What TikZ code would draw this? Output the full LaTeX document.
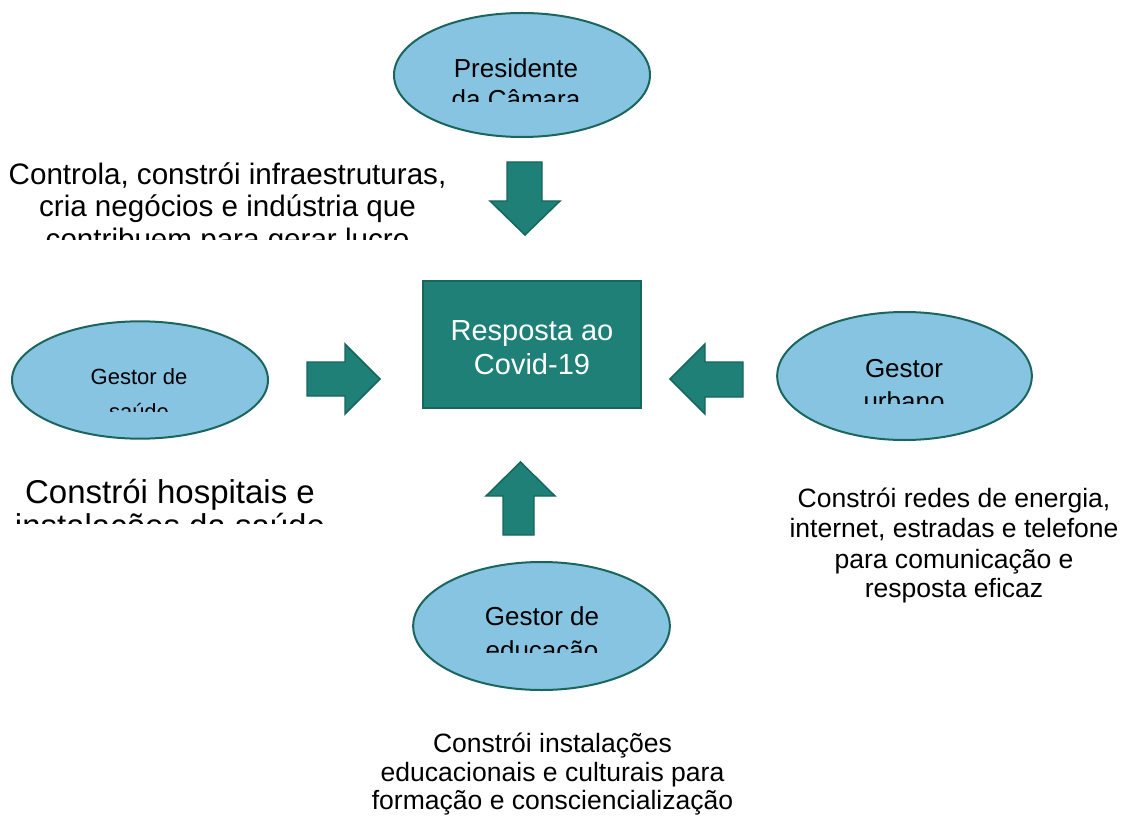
\documentclass[tikz,border=0pt]{standalone}
\usepackage{fontspec}
\setmainfont{Liberation Sans}
\usetikzlibrary{shapes.geometric}
\definecolor{bubblefill}{RGB}{134,196,226}
\definecolor{bubbleline}{RGB}{27,102,92}
\definecolor{boxteal}{RGB}{30,128,118}
\definecolor{arrowline}{RGB}{23,102,92}
\tikzset{
  bubble/.style={ellipse, fill=bubblefill, draw=bubbleline, line width=1.5pt, inner sep=0pt},
  blockarrow/.style={fill=boxteal, draw=arrowline, line width=1.1pt, line join=miter},
  txt/.style={anchor=base, inner sep=0pt, text=black},
  fA/.style={font=\fontsize{19.5}{23}\selectfont},
  fB/.style={font=\fontsize{16.5}{20}\selectfont},
  fC/.style={font=\fontsize{21.75}{26}\selectfont},
  fF/.style={font=\fontsize{22.2}{26}\selectfont},
  fD/.style={font=\fontsize{24.75}{29}\selectfont},
  fE/.style={font=\fontsize{19.9}{23}\selectfont},
}
\begin{document}
\begin{tikzpicture}[x=0.75pt,y=-0.75pt]
\useasboundingbox (0,0) rectangle (1123,816);

% ellipses
\node[bubble, minimum width=192pt, minimum height=93pt] (pres) at (522,75) {};
\node[bubble, minimum width=192pt, minimum height=88pt] (saude) at (140,380) {};
\node[bubble, minimum width=191pt, minimum height=96pt] (urb) at (904.5,376) {};
\node[bubble, minimum width=192.5pt, minimum height=96pt] (edu) at (541.5,626) {};

% central box
\node[fill=boxteal, draw=arrowline, line width=1pt, minimum width=163.5pt, minimum height=95.25pt, inner sep=0pt] (resp) at (532,344.5) {};
\node[txt, fC, text=white] (resp1) at (532,340) {Resposta ao};
\node[txt, fC, text=white] (resp2) at (532,374) {Covid-19};

% block arrows
\path[blockarrow] (507,162) -- (542,162) -- (542,201) -- (560,201) -- (525,235) -- (490,201) -- (507,201) -- cycle;
\path[blockarrow] (503,535) -- (534,535) -- (534,496) -- (555,496) -- (520.5,462) -- (486,496) -- (503,496) -- cycle;
\path[blockarrow] (307,362) -- (345,362) -- (345,344) -- (380,379) -- (345,414) -- (345,396) -- (307,396) -- cycle;
\path[blockarrow] (743,362) -- (705,362) -- (705,344) -- (670,379) -- (705,414) -- (705,397) -- (743,397) -- cycle;

% ellipse texts (clipped)
\begin{scope}
  \clip (390,0) rectangle (660,102);
  \node[txt, fA] (pres1) at (516,77.5) {Presidente};
  \node[txt, fA] (pres2) at (516,109) {da Câmara};
\end{scope}
\begin{scope}
  \clip (0,300) rectangle (280,411);
  \node[txt, fB] (sau1) at (139,384) {Gestor de};
  \node[txt, fB] (sau2) at (139,419) {saúde};
\end{scope}
\begin{scope}
  \clip (770,300) rectangle (1040,403);
  \node[txt, fA] (urb1) at (904,377) {Gestor};
  \node[txt, fA] (urb2) at (904,410) {urbano};
\end{scope}
\begin{scope}
  \clip (400,560) rectangle (680,652);
  \node[txt, fA] (edu1) at (542,625.7) {Gestor de};
  \node[txt, fA] (edu2) at (542,659.5) {educação};
\end{scope}

% description texts
\begin{scope}
  \clip (0,130) rectangle (470,240);
  \node[txt, fF] (d1a) at (227.5,184.5) {Controla, constrói infraestruturas,};
  \node[txt, fF] (d1b) at (227.5,217) {cria negócios e indústria que};
  \node[txt, fF] (d1c) at (227.5,250) {contribuem para gerar lucro};
\end{scope}
\begin{scope}
  \clip (0,460) rectangle (350,523);
  \node[txt, fD] (d2a) at (170,503) {Constrói hospitais e};
  \node[txt, fD] (d2b) at (170,537) {instalações da saúde};
\end{scope}
\node[txt, fE] (d3a) at (954,507) {Constrói redes de energia,};
\node[txt, fE] (d3b) at (954,537.5) {internet, estradas e telefone};
\node[txt, fE] (d3c) at (954,568) {para comunicação e};
\node[txt, fE] (d3d) at (954,597) {resposta eficaz};
\node[txt, fE] (d4a) at (552.5,752) {Constrói instalações};
\node[txt, fE] (d4b) at (552.5,781) {educacionais e culturais para};
\node[txt, fE] (d4c) at (552.5,809) {formação e consciencialização};
\end{tikzpicture}
\end{document}
